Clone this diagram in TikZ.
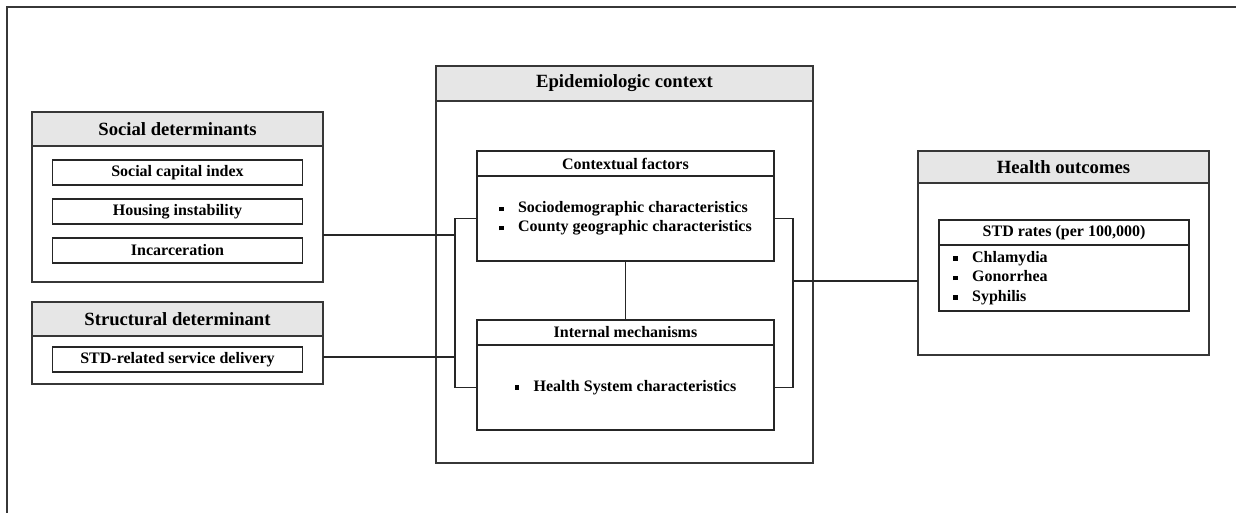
\documentclass[tikz,border=0pt]{standalone}
\usepackage{fontspec}
\setmainfont{Liberation Serif}
\usetikzlibrary{positioning}
\definecolor{hdrgray}{RGB}{230,230,230}
\definecolor{linegray}{RGB}{55,55,55}
\newcommand{\sqbul}{\rule[0.22ex]{0.28em}{0.28em}\hspace{0.9em}}

\begin{document}
\begin{tikzpicture}[
  x=0.75pt, y=-0.75pt,
  font=\bfseries\fontsize{12}{14.5}\selectfont,
  hdr/.style={rectangle, draw=linegray, line width=1.4pt, fill=hdrgray,
              inner sep=0pt, outer sep=0pt, font=\bfseries\fontsize{14}{17}\selectfont},
  pane/.style={rectangle, draw=linegray, line width=1.4pt, inner sep=0pt, outer sep=0pt},
  sub/.style={rectangle, draw=black!85, line width=1.3pt, minimum width=187.5pt,
              minimum height=18.75pt, inner sep=0pt, outer sep=0pt},
  ln/.style={draw=black!85, line width=1.1pt},
]
\useasboundingbox (0,0) rectangle (1236,513);

%% Frame
\draw[linegray, line width=1.6pt] (1236,7) -- (7,7) -- (7,513);

%% Social determinants
\node[hdr, minimum width=218.25pt, minimum height=25.5pt] (sochead) at (177.5,129) {Social determinants};
\node[pane, minimum width=218.25pt, minimum height=102pt, below=0pt of sochead] (socbody) {};
\node[sub, below=10.5pt of socbody.north] (scap) {Social capital index};
\node[sub, below=10.5pt of scap] (house) {Housing instability};
\node[sub, below=10.5pt of house] (incar) {Incarceration};

%% Structural determinant
\node[hdr, minimum width=218.25pt, minimum height=25.5pt] (strhead) at (177.5,319) {Structural determinant};
\node[pane, minimum width=218.25pt, minimum height=36pt, below=0pt of strhead] (strbody) {};
\node[sub] (stdsvc) at (177.5,359.5) {STD-related service delivery};

%% Epidemiologic context
\node[hdr, minimum width=282.75pt, minimum height=26.25pt] (epihead) at (624.5,83.5) {Epidemiologic context};
\node[pane, minimum width=282.75pt, minimum height=271.5pt, below=0pt of epihead] (epibody) {};

\node[sub, minimum width=222.75pt] (ctxhead) at (625.5,163.5) {Contextual factors};
\node[sub, minimum width=222.75pt, minimum height=63.75pt, align=left, below=0pt of ctxhead] (ctxbody)
  {\sqbul Sociodemographic characteristics\\ \sqbul County geographic characteristics};

\node[sub, minimum width=222.75pt] (inthead) at (625.5,332.5) {Internal mechanisms};
\node[sub, minimum width=222.75pt, minimum height=63.75pt, below=0pt of inthead] (intbody)
  {\sqbul Health System characteristics};

%% Health outcomes
\node[hdr, minimum width=218.25pt, minimum height=24pt] (outhead) at (1063.5,167) {Health outcomes};
\node[pane, minimum width=218.25pt, minimum height=129pt, below=0pt of outhead] (outbody) {};
\node[sub] (stdhead) at (1064,232.5) {STD rates (per 100,000)};
\node[sub, minimum height=49.5pt, below=0pt of stdhead] (stdbody) {};
\node[anchor=west, align=left, inner sep=0pt, font=\bfseries\fontsize{12}{14.6}\selectfont]
  (stdlist) at ([xshift=10.5pt]stdbody.west) {\sqbul Chlamydia\\ \sqbul Gonorrhea\\ \sqbul Syphilis};

%% Connectors
\coordinate (lj1) at (455,235);
\coordinate (lj2) at (455,357);
\coordinate (rj) at (793,281);

\draw[ln] (ctxbody.west) -- (ctxbody.west -| lj1) |- (intbody.west);
\draw[ln] (socbody.east |- lj1) -- (lj1);
\draw[ln] (strbody.east |- lj2) -- (lj2);
\draw[ln] (ctxbody.east) -- (ctxbody.east -| rj) |- (intbody.east);
\draw[ln] (rj) -- (outbody.west |- rj);
\draw[ln] (ctxbody.south) -- (inthead.north);

\end{tikzpicture}
\end{document}
